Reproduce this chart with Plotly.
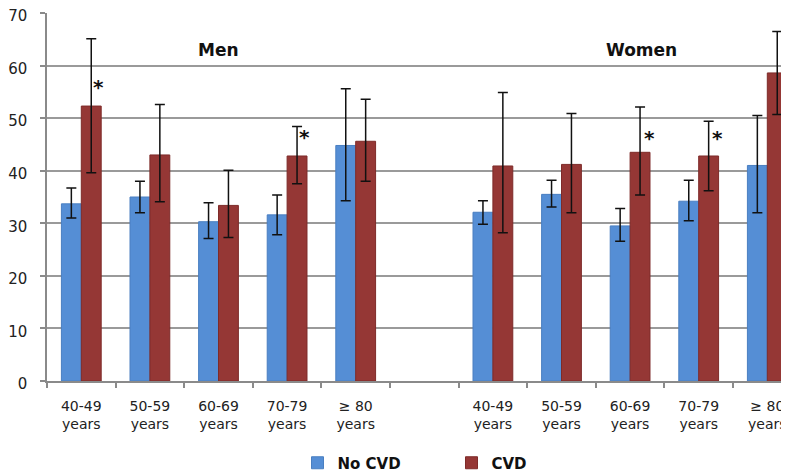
import plotly.graph_objects as go

# ---- data ----
age_labels = ["40-49<br>years", "50-59<br>years", "60-69<br>years", "70-79<br>years", "≥ 80<br>years"]
groups = ["Men", "Women"]

men_no_cvd = [33.7, 35.0, 30.3, 31.6, 44.8]
men_no_cvd_hi = [36.7, 38.0, 33.9, 35.4, 55.6]
men_no_cvd_lo = [31.0, 32.0, 27.1, 27.8, 34.3]

men_cvd = [52.3, 43.0, 33.4, 42.8, 45.6]
men_cvd_hi = [65.1, 52.6, 40.1, 48.4, 53.6]
men_cvd_lo = [39.6, 34.1, 27.3, 37.5, 38.0]

women_no_cvd = [32.1, 35.5, 29.5, 34.2, 41.0]
women_no_cvd_hi = [34.3, 38.2, 32.8, 38.2, 50.5]
women_no_cvd_lo = [29.8, 33.1, 26.6, 30.5, 32.0]

women_cvd = [40.9, 41.2, 43.5, 42.8, 58.6]
women_cvd_hi = [54.9, 50.9, 52.1, 49.4, 66.5]
women_cvd_lo = [28.2, 32.0, 35.4, 36.2, 50.7]

# significance markers: (age index, y-value of star)
stars_men = [(0, 56.0), (3, 46.4)]
stars_women = [(2, 46.3), (3, 46.3), (4, 63.8)]

# x positions: men 0..4, empty slot 5, women 6..10
men_x = [0, 1, 2, 3, 4]
women_x = [6, 7, 8, 9, 10]

BLUE = "#558ED5"
RED = "#953735"

xs = men_x + women_x
no_cvd = men_no_cvd + women_no_cvd
no_cvd_hi = men_no_cvd_hi + women_no_cvd_hi
no_cvd_lo = men_no_cvd_lo + women_no_cvd_lo
cvd = men_cvd + women_cvd
cvd_hi = men_cvd_hi + women_cvd_hi
cvd_lo = men_cvd_lo + women_cvd_lo

fig = go.Figure()
fig.add_trace(go.Bar(
    x=xs, y=no_cvd, name="<b>No CVD</b>",
    marker=dict(color=BLUE, line=dict(color="#4A7FC1", width=1)),
    error_y=dict(type="data", symmetric=False,
                 array=[h - v for h, v in zip(no_cvd_hi, no_cvd)],
                 arrayminus=[v - l for l, v in zip(no_cvd_lo, no_cvd)],
                 color="#111111", thickness=1.5, width=5),
))
fig.add_trace(go.Bar(
    x=xs, y=cvd, name="<b>CVD</b>",
    marker=dict(color=RED, line=dict(color="#7E2B29", width=1)),
    error_y=dict(type="data", symmetric=False,
                 array=[h - v for h, v in zip(cvd_hi, cvd)],
                 arrayminus=[v - l for l, v in zip(cvd_lo, cvd)],
                 color="#111111", thickness=1.5, width=5),
))

# stars
for i, yv in stars_men:
    fig.add_annotation(x=men_x[i], y=yv, text="<b>*</b>", showarrow=False,
                       xshift=17, font=dict(size=20, color="#111111", family="DejaVu Sans"))
for i, yv in stars_women:
    fig.add_annotation(x=women_x[i], y=yv, text="<b>*</b>", showarrow=False,
                       xshift=19, font=dict(size=20, color="#111111", family="DejaVu Sans"))

# group titles
fig.add_annotation(x=2, y=63.0, text="<b>Men</b>", showarrow=False,
                   font=dict(size=17, color="#111111", family="DejaVu Sans"))
fig.add_annotation(x=8.17, y=63.0, text="<b>Women</b>", showarrow=False,
                   font=dict(size=17, color="#111111", family="DejaVu Sans"))

# page body adds an 8px offset; margins compensate
L, T = 39, 5
W, H = 789, 473
plot_h = 368
plot_w = W - L
cat_w = 68.6

fig.update_layout(
    width=W, height=H,
    margin=dict(l=L, r=0, t=T, b=H - T - plot_h, autoexpand=False),
    paper_bgcolor="white", plot_bgcolor="white",
    barmode="group", bargap=0.42, bargroupgap=0,
    font=dict(family="DejaVu Sans", size=13, color="#222222"),
    showlegend=True,
    legend=dict(orientation="h", x=0.334, xanchor="left", y=-0.178, yanchor="top",
                font=dict(size=15, color="#111111", family="DejaVu Sans"),
                entrywidth=109, entrywidthmode="pixels",
                itemclick=False, traceorder="normal"),
)
fig.update_xaxes(
    automargin=False,
    range=[-0.5, -0.5 + plot_w / cat_w],
    tickmode="array", tickvals=xs,
    ticktext=age_labels + age_labels,
    ticks="", showgrid=False, zeroline=False,
    showline=True, linecolor="#8a8a8a", linewidth=1.5,
    ticklabelstandoff=11, ticklabeloverflow="allow",
    tickfont=dict(size=14, color="#222222"),
    minor=dict(tick0=0.5, dtick=1, ticks="outside", ticklen=5,
               tickcolor="#8a8a8a", tickwidth=1.5, showgrid=False),
)
fig.update_yaxes(
    automargin=False,
    range=[0, 70], dtick=10, tick0=0,
    showgrid=True, gridcolor="#9a9a9a", gridwidth=1.5,
    zeroline=False,
    showline=True, linecolor="#8a8a8a", linewidth=1.5,
    ticks="outside", ticklen=5, tickcolor="#8a8a8a", tickwidth=1.5,
    ticklabelstandoff=10, ticklabeloverflow="allow", ticklabelshift=3,
    tickfont=dict(size=15, color="#222222"),
)

fig.write_html("out.html")
